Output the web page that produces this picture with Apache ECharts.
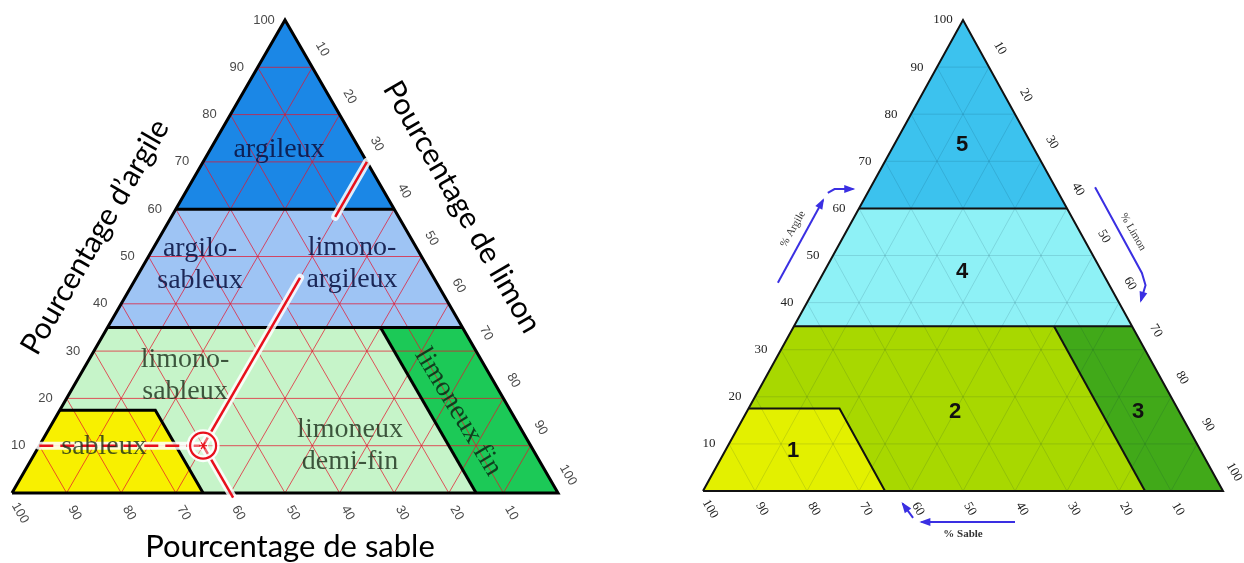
<!DOCTYPE html>
<html><head><meta charset="utf-8">
<script src="https://cdn.jsdelivr.net/npm/echarts@6/dist/echarts.min.js"></script>
<style>html,body{margin:0;padding:0;background:#fff}#c{width:1244px;height:563px}</style>
</head><body><div id="c"></div>
<script>
// ---------------- DATA (ternary: [sand %, clay %], silt = 100 - sand - clay) ----------------
const tickValues = [10, 20, 30, 40, 50, 60, 70, 80, 90, 100];
const gridSteps = [10, 20, 30, 40, 50, 60, 70, 80, 90];

const zoneArgileux     = [[40, 60], [0, 60], [0, 100]];
const zoneArgiloLimono = [[65, 35], [0, 35], [0, 60], [40, 60]];
const zoneLimoneux     = [[65, 0], [15, 0], [15, 35], [65, 35], [82.5, 17.5], [65, 17.5]];
const zoneSableux      = [[100, 0], [65, 0], [65, 17.5], [82.5, 17.5]];
const zoneLimoneuxFin  = [[15, 0], [0, 0], [0, 35], [15, 35]];

const boundaryLines = [
  [[65, 35], [0, 35]],
  [[40, 60], [0, 60]],
  [[82.5, 17.5], [65, 17.5], [65, 0]],
  [[15, 35], [15, 0]]
];
const outline = [[100, 0], [0, 0], [0, 100], [100, 0]];

// example soil sample: sand 60, clay 10, silt 30
const sampleSand = 60, sampleClay = 10, sampleSilt = 30;

const zoneNamesLeft = ['argileux', 'argilo-\nsableux', 'limono-\nargileux', 'limono-\nsableux', 'sableux', 'limoneux\ndemi-fin', 'limoneux fin'];
const zoneNumbersRight = ['5', '4', '2', '1', '3'];

// ---------------- helpers ----------------
function tern(s, c) { return [100 - s - c / 2, c]; }

const leftFills  = ['#1b87e6', '#9ec4f4', '#c6f4c9', '#f8f000', '#1cc957'];
const rightFills = ['#3cc2ee', '#8ef1f6', '#a8d800', '#e3f000', '#41a919'];
const zones = [zoneArgileux, zoneArgiloLimono, zoneLimoneux, zoneSableux, zoneLimoneuxFin];

function polySeries(g, polys, fills, z) {
  return {
    type: 'custom', coordinateSystem: 'cartesian2d', xAxisIndex: g, yAxisIndex: g, z: z, silent: true,
    data: polys.map(() => [0, 0]),
    renderItem: (p, api) => ({
      type: 'polygon',
      shape: { points: polys[p.dataIndex].map(([s, c]) => api.coord(tern(s, c))) },
      style: { fill: fills[p.dataIndex] }
    })
  };
}
function lineSeries(g, segs, style, z) {
  return {
    type: 'custom', coordinateSystem: 'cartesian2d', xAxisIndex: g, yAxisIndex: g, z: z, silent: true,
    data: segs.map(() => [0, 0]),
    renderItem: (p, api) => ({
      type: 'polyline',
      shape: { points: segs[p.dataIndex].map(([s, c]) => api.coord(tern(s, c))) },
      style: Object.assign({ fill: 'none' }, style)
    })
  };
}
function textSeries(g, items, z) {
  return {
    type: 'custom', coordinateSystem: 'cartesian2d', xAxisIndex: g, yAxisIndex: g, z: z, silent: true,
    data: items.map(() => [0, 0]),
    renderItem: (p, api) => {
      const it = items[p.dataIndex];
      const pt = api.coord(tern(it.s, it.c));
      return {
        type: 'text', x: pt[0] + (it.dx || 0), y: pt[1] + (it.dy || 0), rotation: it.rot || 0,
        style: { text: it.text, font: it.font, fill: it.fill, align: 'center', verticalAlign: 'middle',
                 textAlign: 'center', textVerticalAlign: 'middle', lineHeight: it.lh || undefined }
      };
    }
  };
}
function gridSegments() {
  const segs = [];
  gridSteps.forEach(k => {
    segs.push([[100 - k, k], [0, k]]);        // clay constant
    segs.push([[k, 0], [k, 100 - k]]);        // sand constant
    segs.push([[100 - k, 0], [0, 100 - k]]);  // silt constant
  });
  return segs;
}
function tickItems(font, fill, o) {
  const items = [];
  tickValues.forEach(v => {
    items.push({ s: 100 - v, c: v, text: String(v), dx: o.clay[0], dy: o.clay[1], font, fill });
    items.push({ s: 0, c: 100 - v, text: String(v), dx: o.silt[0], dy: o.silt[1], rot: -Math.PI / 3, font, fill });
    items.push({ s: v, c: 0, text: String(v), dx: o.sand[0], dy: o.sand[1], rot: -Math.PI / 3, font, fill });
  });
  return items;
}

// ---------------- series ----------------
const series = [];
// Left diagram
series.push(polySeries(0, zones, leftFills, 1));
series.push(lineSeries(0, gridSegments(), { stroke: 'rgba(228,20,45,0.72)', lineWidth: 1 }, 2));
series.push(lineSeries(0, boundaryLines, { stroke: '#000', lineWidth: 3 }, 3));
series.push(lineSeries(0, [outline], { stroke: '#000', lineWidth: 3, lineJoin: 'miter' }, 3));
// sample reading lines
const siltGapLow = 45.5, siltGapHigh = 58.4;
const sampleSegs = [
  [[100 - sampleClay, sampleClay], [sampleSand, sampleClay]]
];
const sampleSolid = [
  [[sampleSand, sampleClay], [100 - sampleSilt - siltGapLow, siltGapLow]],
  [[100 - sampleSilt - siltGapHigh, siltGapHigh], [0, 100 - sampleSilt]],
  [[sampleSand, sampleClay], [sampleSand, -1]]
];
series.push(lineSeries(0, sampleSegs.concat(sampleSolid), { stroke: 'rgba(255,255,255,0.85)', lineWidth: 8, lineCap: 'round' }, 4));
series.push(lineSeries(0, sampleSegs, { stroke: '#e8101c', lineWidth: 2.5, lineDash: [14, 7] }, 5));
series.push(lineSeries(0, sampleSolid, { stroke: '#e8101c', lineWidth: 2.5 }, 5));
series.push({
  type: 'custom', coordinateSystem: 'cartesian2d', xAxisIndex: 0, yAxisIndex: 0, z: 6, silent: true,
  data: [[0, 0]],
  renderItem: (p, api) => {
    const c = api.coord(tern(sampleSand, sampleClay));
    const st = [];
    for (let i = 0; i < 3; i++) {
      const a = i * Math.PI / 3;
      st.push({ type: 'line', shape: { x1: c[0] - 4 * Math.cos(a), y1: c[1] - 4 * Math.sin(a), x2: c[0] + 4 * Math.cos(a), y2: c[1] + 4 * Math.sin(a) }, style: { stroke: '#e8101c', lineWidth: 1.2 } });
    }
    return { type: 'group', children: [
      { type: 'circle', shape: { cx: c[0], cy: c[1], r: 13 }, style: { fill: 'rgba(255,255,255,0.35)', stroke: 'rgba(255,255,255,0.9)', lineWidth: 7 } },
      { type: 'circle', shape: { cx: c[0], cy: c[1], r: 13 }, style: { fill: 'none', stroke: '#e8101c', lineWidth: 2.2 } }
    ].concat(st) };
  }
});
// left zone names (layout in pixels converted to the grid's cartesian units)
const serif = '"Liberation Serif", "DejaVu Serif", serif';
const navy = 'rgba(12,22,70,0.9)', dgreen = 'rgba(25,45,25,0.8)';
const leftLabelPx = [
  [zoneNamesLeft[0], 279, 150, navy, 0],
  [zoneNamesLeft[1], 200, 265, navy, 0],
  [zoneNamesLeft[2], 352, 264, navy, 0],
  [zoneNamesLeft[3], 185, 376, dgreen, 0],
  [zoneNamesLeft[4], 104, 447, dgreen, 0],
  [zoneNamesLeft[5], 350, 446, dgreen, 0],
  [zoneNamesLeft[6], 458, 412, 'rgba(10,40,20,0.85)', -Math.PI / 3 + 0.02]
];
series.push(textSeries(0, leftLabelPx.map(([t, px, py, col, rot]) => {
  const x = (px - 12) / 5.46, y = (493 - py) / 4.73;
  return { s: 100 - x - y / 2, c: y, text: t, font: '28px ' + serif, fill: col, rot: rot, lh: 32 };
}), 7));
series.push(textSeries(0, tickItems('13px "Liberation Sans", Arial, sans-serif', '#4a4a4a',
  { clay: [-21, 0], silt: [10, -18], sand: [8, 20] }), 7));

// Right diagram
series.push(polySeries(1, zones, rightFills, 1));
series.push(lineSeries(1, gridSegments(), { stroke: 'rgba(0,40,60,0.13)', lineWidth: 1 }, 2));
series.push(lineSeries(1, boundaryLines, { stroke: '#111', lineWidth: 2 }, 3));
series.push(lineSeries(1, [outline], { stroke: '#111', lineWidth: 2 }, 3));
const rightLabelPx = [
  [zoneNumbersRight[0], 962, 145],
  [zoneNumbersRight[1], 962, 272],
  [zoneNumbersRight[2], 955, 412],
  [zoneNumbersRight[3], 793, 451],
  [zoneNumbersRight[4], 1138, 412]
];
series.push(textSeries(1, rightLabelPx.map(([t, px, py]) => {
  const x = (px - 703) / 5.2, y = (491 - py) / 4.71;
  return { s: 100 - x - y / 2, c: y, text: t, font: 'bold 22px "Liberation Sans", Arial, sans-serif', fill: '#111' };
}), 7));
series.push(textSeries(1, tickItems('13px ' + serif, '#222',
  { clay: [-20, 0], silt: [11, -19], sand: [7, 18] }), 7));

// arrows (cartesian units of right grid)
const arrowArgileA = [[14.4, 44.2], [23.1, 61.8]];
const arrowArgileB = [[24.0, 63.3], [25.3, 64.1], [28.9, 64.1]];
const arrowLimon   = [[75.4, 64.5], [84.4, 46.3], [85.1, 43.7], [84.2, 40.4]];
const arrowSableA  = [[60.0, -6.6], [42.0, -6.6]];
const arrowSableB  = [[40.4, -5.7], [38.4, -2.7]];
const arrows = [arrowArgileA, arrowArgileB, arrowLimon, arrowSableA, arrowSableB];
series.push({
  type: 'custom', coordinateSystem: 'cartesian2d', xAxisIndex: 1, yAxisIndex: 1, z: 8, silent: true,
  data: arrows.map(() => [0, 0]),
  renderItem: (p, api) => {
    const pts = arrows[p.dataIndex].map(v => api.coord(v));
    const a = pts[pts.length - 2], b = pts[pts.length - 1];
    const ang = Math.atan2(b[1] - a[1], b[0] - a[0]);
    const len = 9, w = 4, ca = Math.cos(ang), sa = Math.sin(ang);
    const head = [[b[0] + ca * 2, b[1] + sa * 2],
      [b[0] - ca * len - sa * w, b[1] - sa * len + ca * w],
      [b[0] - ca * len + sa * w, b[1] - sa * len - ca * w]];
    return { type: 'group', children: [
      { type: 'polyline', shape: { points: pts }, style: { stroke: '#3a2fe2', lineWidth: 2, fill: 'none' } },
      { type: 'polygon', shape: { points: head }, style: { fill: '#3a2fe2' } }
    ] };
  }
});

const chart = echarts.init(document.getElementById('c'));
const sansTitle = '30px Lato, "Liberation Sans", sans-serif';
function gtext(x, y, rot, text, font, fill) {
  return { type: 'text', x: x, y: y, rotation: rot, z: 10,
    style: { text: text, font: font, fill: fill, align: 'center', verticalAlign: 'middle', textAlign: 'center', textVerticalAlign: 'middle' } };
}
chart.setOption({
  animation: false,
  backgroundColor: '#fff',
  grid: [
    { left: 12, top: 20, width: 546, height: 473 },
    { left: 703, top: 20, width: 520, height: 471 }
  ],
  xAxis: [
    { gridIndex: 0, type: 'value', min: 0, max: 100, show: false },
    { gridIndex: 1, type: 'value', min: 0, max: 100, show: false }
  ],
  yAxis: [
    { gridIndex: 0, type: 'value', min: 0, max: 100, show: false },
    { gridIndex: 1, type: 'value', min: 0, max: 100, show: false }
  ],
  graphic: [
    gtext(95, 237, Math.PI / 3, 'Pourcentage d’argile', sansTitle, '#000'),
    gtext(462, 207, -Math.PI / 3, 'Pourcentage de limon', sansTitle, '#000'),
    gtext(290, 547, 0, 'Pourcentage de sable', '31px Lato, "Liberation Sans", sans-serif', '#000'),
    gtext(793, 229, Math.PI / 3, '% Argile', '11px ' + serif, '#333'),
    gtext(1133, 232, -Math.PI / 3, '% Limon', '11px ' + serif, '#333'),
    gtext(963, 534, 0, '% Sable', 'bold 11px ' + serif, '#333')
  ],
  series: series
});
</script></body></html>
